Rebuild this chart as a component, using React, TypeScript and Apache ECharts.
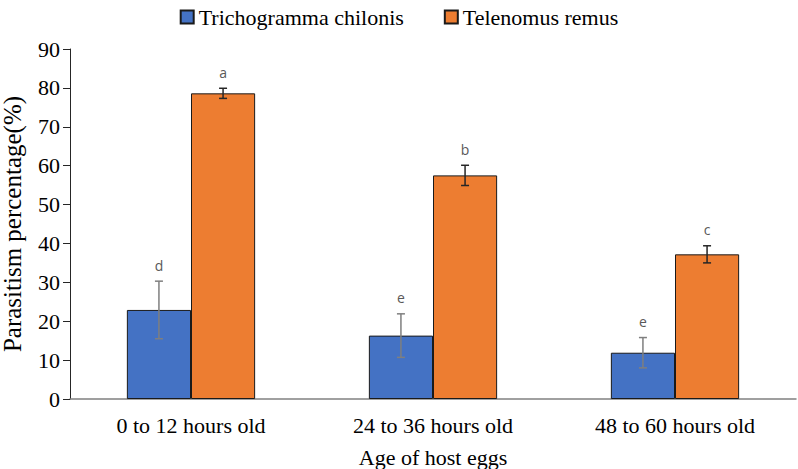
import React, { useEffect, useRef } from "react";
import * as echarts from "echarts";

const categories = ["0 to 12 hours old", "24 to 36 hours old", "48 to 60 hours old"];
const seriesNames = ["Trichogramma chilonis", "Telenomus remus"];
const trichoValues = [22.9, 16.3, 11.9];
const trichoErrors = [7.4, 5.6, 3.9];
const trichoLetters = ["d", "e", "e"];
const telenomusValues = [78.6, 57.5, 37.2];
const telenomusErrors = [1.3, 2.6, 2.2];
const telenomusLetters = ["a", "b", "c"];
const yTicks = { min: 0, max: 90, interval: 10 };

const SERIF = "Liberation Serif";
const BAR_FRACTION = 0.53;

function errorSeries(name: string, values: number[], errors: number[], letters: string[], side: number, color: string) {
  return {
    type: "custom",
    name,
    z: 10,
    data: values.map((v, i) => [i, v, errors[i]]),
    renderItem: (params: any, api: any) => {
      const idx = api.value(0);
      const v = api.value(1);
      const e = api.value(2);
      const band = api.size([1, 0])[0];
      const barW = (band * BAR_FRACTION) / 2;
      const base = api.coord([idx, v]);
      const x = base[0] + (side * barW) / 2;
      const top = api.coord([idx, v + e])[1];
      const bot = api.coord([idx, v - e])[1];
      const cap = 4;
      const ls = { stroke: color, lineWidth: 1.5 };
      return {
        type: "group",
        children: [
          { type: "line", shape: { x1: x, y1: top, x2: x, y2: bot }, style: ls },
          { type: "line", shape: { x1: x - cap, y1: top, x2: x + cap, y2: top }, style: ls },
          { type: "line", shape: { x1: x - cap, y1: bot, x2: x + cap, y2: bot }, style: ls },
          {
            type: "text",
            x,
            y: top - 9,
            style: {
              text: letters[params.dataIndex],
              fill: "#595959",
              fontSize: 14,
              fontFamily: "Open Sans",
              align: "center",
              verticalAlign: "bottom",
            },
          },
        ],
      };
    },
  };
}

export default function App() {
  const ref = useRef<HTMLDivElement>(null);
  useEffect(() => {
    if (!ref.current) return;
    const chart = echarts.init(ref.current, null, { renderer: "svg" });
    chart.setOption({
      animation: false,
      backgroundColor: "#ffffff",
      textStyle: { fontFamily: SERIF },
      legend: {
        data: seriesNames,
        top: 1,
        left: "center",
        icon: "rect",
        itemWidth: 13,
        itemHeight: 13,
        itemGap: 40,
        textStyle: { fontFamily: SERIF, fontSize: 22, color: "#000" },
      },
      grid: { left: 70, right: 2, top: 49, bottom: 70, containLabel: false, outerBoundsMode: "none" },
      xAxis: {
        type: "category",
        data: categories,
        name: "Age of host eggs",
        nameLocation: "middle",
        nameGap: 47,
        nameTextStyle: { fontFamily: SERIF, fontSize: 22, color: "#000" },
        axisLine: { lineStyle: { color: "#808080", width: 1.5 } },
        axisTick: { show: false },
        axisLabel: { fontFamily: SERIF, fontSize: 22, color: "#000", margin: 15 },
      },
      yAxis: {
        type: "value",
        min: yTicks.min,
        max: yTicks.max,
        interval: yTicks.interval,
        name: "Parasitism percentage(%)",
        nameLocation: "middle",
        nameGap: 45,
        nameTextStyle: { fontFamily: SERIF, fontSize: 25, color: "#000" },
        axisLine: { show: true, lineStyle: { color: "#262626", width: 1 } },
        axisTick: { show: true, length: 7, lineStyle: { color: "#262626" } },
        axisLabel: { fontFamily: SERIF, fontSize: 22, color: "#000", margin: 10 },
        splitLine: { show: false },
      },
      series: [
        {
          type: "bar",
          name: seriesNames[0],
          data: trichoValues,
          barGap: "0%",
          barCategoryGap: "47%",
          itemStyle: { color: "#4472C4", borderColor: "#1a1a1a", borderWidth: 1 },
        },
        {
          type: "bar",
          name: seriesNames[1],
          data: telenomusValues,
          barGap: "0%",
          barCategoryGap: "47%",
          itemStyle: { color: "#ED7D31", borderColor: "#1a1a1a", borderWidth: 1 },
        },
        errorSeries("err0", trichoValues, trichoErrors, trichoLetters, -1, "#7f7f7f"),
        errorSeries("err1", telenomusValues, telenomusErrors, telenomusLetters, 1, "#262626"),
      ],
    });
    return () => chart.dispose();
  }, []);
  return (
    <div
      ref={ref}
      style={{ position: "absolute", left: 0, top: 0, width: 798, height: 469 }}
    />
  );
}
